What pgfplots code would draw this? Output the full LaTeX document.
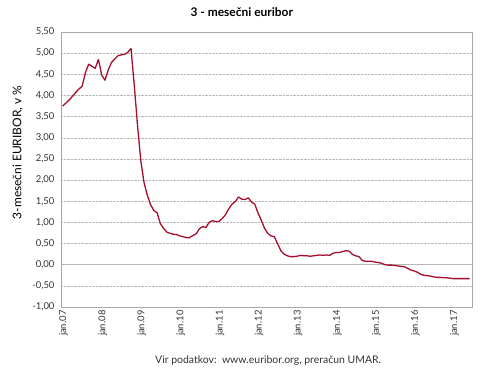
\documentclass[border=0pt]{standalone}
\usepackage{pgfplots}
\pgfplotsset{compat=1.18}
\usepackage{fontspec}
\setmainfont{Lato}
\definecolor{eurred}{HTML}{A50F2D}
\definecolor{gridg}{HTML}{B8B8B8}
\definecolor{frameg}{HTML}{A8A8A8}
\definecolor{txt}{HTML}{333333}
\begin{document}
\begin{tikzpicture}
\begin{axis}[
  scale only axis,
  width=411bp, height=275bp,
  xmin=-0.5, xmax=125.7,
  ymin=-1, ymax=5.5,
  ytick={-1,-0.5,...,5.5},
  xtick={0,12,...,120},
  xticklabels={jan.07,jan.08,jan.09,jan.10,jan.11,jan.12,jan.13,jan.14,jan.15,jan.16,jan.17},
  xticklabel style={rotate=90, anchor=east, font=\fontsize{9.5}{11}\selectfont, text=txt, yshift=-1bp},
  yticklabel style={font=\fontsize{9.5}{11}\selectfont, text=txt, xshift=-3bp},
  /pgf/number format/.cd, fixed, fixed zerofill, precision=2, use comma, assume math mode=true,
  /pgfplots/.cd,
  major tick length=0pt,
  axis line style={frameg, line width=0.8pt},
  ymajorgrids,
  major grid style={gridg, densely dotted, line width=0.5pt},
  extra y ticks={0},
  extra y tick labels={},
  extra y tick style={major grid style={gridg, solid, line width=1.4pt}},
  ylabel={3-mesečni EURIBOR, v \%},
  ylabel style={at={(axis description cs:-0.105,0.562)}, anchor=center, font=\fontsize{12}{14}\selectfont, text=black},
  title={\textbf{3 - mesečni euribor}},
  title style={at={(axis description cs:0.44,1)}, anchor=base, yshift=10bp, font=\fontsize{12}{14}\selectfont},
  clip=false,
]
\addplot[eurred, line width=1.3pt, line join=round] table {
x y
0 3.75
1 3.82
2 3.89
3 3.98
4 4.07
5 4.15
6 4.22
7 4.54
8 4.74
9 4.69
10 4.64
11 4.85
12 4.48
13 4.36
14 4.60
15 4.78
16 4.86
17 4.94
18 4.96
19 4.97
20 5.02
21 5.11
22 4.24
23 3.29
24 2.46
25 1.94
26 1.64
27 1.42
28 1.28
29 1.23
30 0.97
31 0.86
32 0.77
33 0.74
34 0.72
35 0.71
36 0.68
37 0.66
38 0.64
39 0.64
40 0.69
41 0.73
42 0.85
43 0.90
44 0.88
45 1.00
46 1.04
47 1.02
48 1.02
49 1.09
50 1.18
51 1.32
52 1.43
53 1.49
54 1.60
55 1.55
56 1.54
57 1.58
58 1.48
59 1.43
60 1.22
61 1.05
62 0.86
63 0.74
64 0.68
65 0.66
66 0.50
67 0.33
68 0.25
69 0.21
70 0.19
71 0.19
72 0.20
73 0.22
74 0.21
75 0.21
76 0.20
77 0.21
78 0.22
79 0.23
80 0.22
81 0.23
82 0.22
83 0.27
84 0.29
85 0.29
86 0.31
87 0.33
88 0.32
89 0.24
90 0.21
91 0.19
92 0.10
93 0.08
94 0.08
95 0.08
96 0.06
97 0.05
98 0.03
99 0.00
100 -0.01
101 -0.01
102 -0.02
103 -0.03
104 -0.04
105 -0.05
106 -0.09
107 -0.13
108 -0.15
109 -0.18
110 -0.23
111 -0.25
112 -0.26
113 -0.27
114 -0.29
115 -0.30
116 -0.30
117 -0.31
118 -0.31
119 -0.32
120 -0.33
121 -0.33
122 -0.33
123 -0.33
124 -0.33
125 -0.33
};
\node[anchor=base, font=\fontsize{10.5}{12}\selectfont, text=txt] at ([yshift=-57bp]axis description cs:0.504,0) {Vir podatkov:\ \ www.euribor.org, preračun UMAR.};
\end{axis}
\pgfresetboundingbox
\path ([xshift=-61bp,yshift=-71bp]current axis.south west) rectangle ([xshift=18bp,yshift=32bp]current axis.north east);
\end{tikzpicture}
\end{document}
